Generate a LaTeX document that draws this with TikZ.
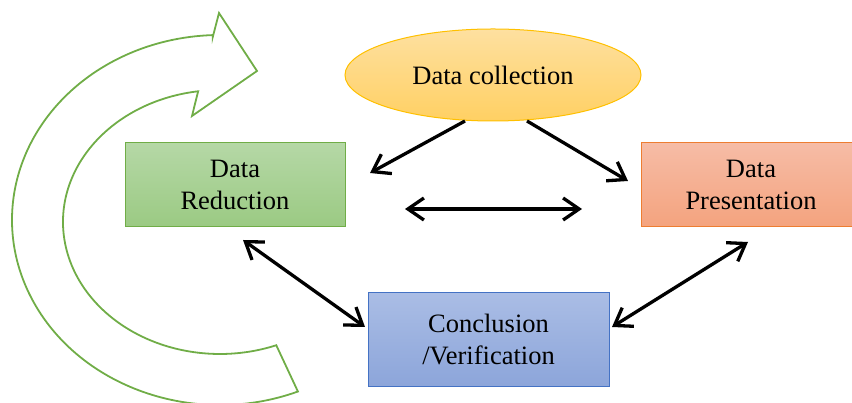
\documentclass[tikz,border=0pt]{standalone}
\usepackage{fontspec}
\setmainfont{Liberation Serif}
\usetikzlibrary{arrows.meta,shapes.geometric,calc}
\definecolor{ellT}{HTML}{FEE0A0}
\definecolor{ellB}{HTML}{FFD063}
\definecolor{ellD}{HTML}{FFC000}
\definecolor{grnT}{HTML}{B5D8A6}
\definecolor{grnB}{HTML}{9BCA83}
\definecolor{grnD}{HTML}{70AD47}
\definecolor{orgT}{HTML}{F6BCA6}
\definecolor{orgB}{HTML}{F4A37E}
\definecolor{orgD}{HTML}{ED7D31}
\definecolor{bluT}{HTML}{AABDE5}
\definecolor{bluB}{HTML}{8CA5DA}
\definecolor{bluD}{HTML}{4472C4}
\begin{document}
\begin{tikzpicture}[x=1pt,y=1pt,
  lbl/.style={font=\fontsize{26.5}{32}\selectfont, align=center, text=black},
  boxnode/.style={lbl, rectangle, line width=1pt, inner sep=0pt, outer sep=0pt,
                  minimum width=220pt, minimum height=84pt},
  tipb/.tip={Straight Barb[length=16pt,width=22pt]},
  link/.style={line width=3.3pt, tipb-tipb},
  oneway/.style={line width=3.3pt, -tipb},
  loop arrow/.style={draw=grnD, line width=1.8pt, line join=miter}
]
\useasboundingbox (0,0) rectangle (852,403);

% big recycling arrow
\coordinate (co) at (220,183);
\coordinate (ci) at (220,181);
\coordinate (barbT) at (219,390);
\coordinate (tipA) at (257,332);
\coordinate (barbB) at (192,287);
\draw[loop arrow] ($(co)+(92:208pt and 183pt)$) -- (barbT) -- (tipA) -- (barbB)
  -- ($(ci)+(98:157pt and 132pt)$)
  arc[start angle=98, end angle=291, x radius=157pt, y radius=132pt]
  -- ($(co)+(292:208pt and 185pt)$)
  arc[start angle=292, end angle=92, x radius=208pt, y radius=185pt] -- cycle;

% nodes
\node[ellipse, lbl, draw=ellD, line width=1pt, top color=ellT, bottom color=ellB,
      minimum width=296pt, minimum height=92pt, inner sep=0pt, outer sep=0pt]
      (dc) at (493,328) {Data collection};
\node[boxnode, draw=grnD, top color=grnT, bottom color=grnB] (dr) at (235,218) {Data\\Reduction};
\node[boxnode, draw=orgD, top color=orgT, bottom color=orgB] (dp) at (751,218) {Data\\Presentation};
\node[boxnode, draw=bluD, top color=bluT, bottom color=bluB,
      minimum width=241pt, minimum height=94pt] (cv) at (488.5,63) {Conclusion\\/Verification};

% connectors
\draw[oneway] ([xshift=-28pt]dc.south) -- ([xshift=25pt,yshift=12pt]dr.east);
\draw[oneway] ([xshift=34pt]dc.south) -- ([xshift=-13pt,yshift=4pt]dp.west);
\draw[link] ([xshift=60pt,yshift=-24pt]dr.east) -- ([xshift=-59pt,yshift=-24pt]dp.west);
\draw[link] ([xshift=8pt,yshift=-13pt]dr.south) -- ([xshift=-3pt,yshift=13pt]cv.west);
\draw[link] ([xshift=-3pt,yshift=-15pt]dp.south) -- ([xshift=3pt,yshift=13pt]cv.east);
\end{tikzpicture}
\end{document}
